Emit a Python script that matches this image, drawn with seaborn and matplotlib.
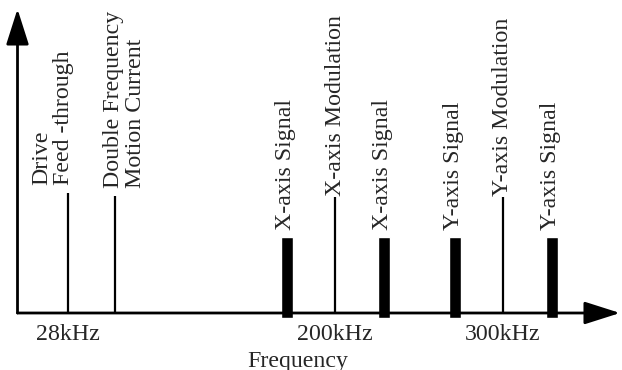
import matplotlib
matplotlib.use("Agg")
import matplotlib.pyplot as plt
import seaborn as sns
import numpy as np

# ---- data (schematic positions along the frequency axis) ----
line_labels = ["Drive\nFeed -through", "Double Frequency\nMotion Current",
               "X-axis Modulation", "Y-axis Modulation"]
line_pos = [50, 97, 317, 485]
line_top = [125, 122, 121, 121]

bar_labels = ["X-axis Signal", "X-axis Signal", "Y-axis Signal", "Y-axis Signal"]
bar_pos = [269, 366, 437, 534]
bar_height = [81, 81, 81, 81]

tick_pos = [50, 317, 485]
tick_labels = ["28kHz", "200kHz", "300kHz"]
x_label = "Frequency"

baseline = 5

sns.set_theme(style="white")
plt.rcParams["font.family"] = ["Liberation Serif", "DejaVu Serif"]
FS = 17.2

W, H = 622, 370
fig = plt.figure(figsize=(W / 100, H / 100), dpi=100)
ax_left, ax_right, ax_top, ax_bot = 17.5, 620, 9, 318
ax = fig.add_axes([ax_left / W, (H - ax_bot) / H, (ax_right - ax_left) / W, (ax_bot - ax_top) / H])

# bars (signals)
sns.barplot(x=bar_pos, y=bar_height, native_scale=True, color="black", saturation=1,
            width=12 / 71, errorbar=None, ax=ax, zorder=3)
# thin lines
ax.vlines(line_pos, baseline, line_top, color="black", lw=1.6, zorder=3)

ax.set_xlim(0, ax_right - ax_left)
ax.set_ylim(0, ax_bot - ax_top)
for s in ax.spines.values():
    s.set_visible(False)
ax.set_yticks([])
ax.set_xticks(tick_pos)
ax.set_xticklabels(tick_labels, fontsize=FS)
ax.tick_params(axis="x", length=0, pad=4)
ax.set_xlabel(x_label, fontsize=FS)
ax.xaxis.set_label_coords((298 - ax_left) / (ax_right - ax_left), -(361 - ax_bot) / (ax_bot - ax_top))
ax.xaxis.label.set_va("center")

# axis arrows
arrow = dict(arrowstyle="-|>,head_length=22,head_width=7", mutation_scale=1,
             lw=2.0, color="black", shrinkA=0, shrinkB=0)
ax.annotate("", xy=(0, ax_bot - ax_top), xytext=(0, baseline), arrowprops=arrow,
            annotation_clip=False)
ax.annotate("", xy=(ax_right - ax_left, baseline), xytext=(0, baseline), arrowprops=arrow,
            annotation_clip=False)

# labels
line_dx = [-10.6, 7.0, 1, 0]
line_dy = [5.8, 5.8, 0.5, 0.5]
for lab, x, y, dx, dy in zip(line_labels, line_pos, line_top, line_dx, line_dy):
    ax.annotate(lab, xy=(x, y), xytext=(dx, dy), textcoords="offset points",
                rotation=90, ha="center", va="bottom", multialignment="left",
                fontsize=FS, linespacing=1.08)
for lab, x, y in zip(bar_labels, bar_pos, bar_height):
    ax.annotate(lab, xy=(x, y), xytext=(-1, 5), textcoords="offset points",
                rotation=90, ha="center", va="bottom", fontsize=FS)

fig.savefig("out.png", dpi=100)
